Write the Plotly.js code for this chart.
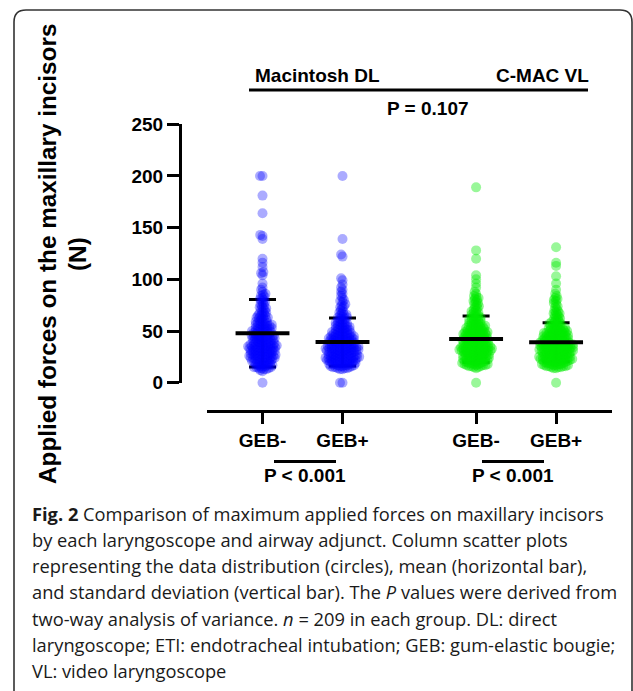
<!DOCTYPE html>
<html>
<head>
<meta charset="utf-8">
<script src="https://cdn.plot.ly/plotly-3.0.1.min.js"></script>
<style>html,body{margin:0;padding:0;background:#fff;}#chart{width:633px;height:691px;}</style>
</head>
<body>
<div id="chart"></div>
<script>
// ---------- data ----------
const groupLabels = ['GEB-', 'GEB+', 'GEB-', 'GEB+'];
const deviceLabels = ['Macintosh DL', 'C-MAC VL'];
const pInteraction = 'P = 0.107';
const pWithin = ['P < 0.001', 'P < 0.001'];

const macGEBminus = [200,200,181,164,143,142,139,120,116,112,107,106,104,96,0,
 12,13,13,14,14,15,15,15,16,16,16,17,17,17,18,18,18,19,19,19,11,14,
 20,20,21,21,21,22,22,22,23,23,23,23,24,24,24,25,25,25,25,26,26,26,26,27,27,27,27,28,28,28,28,29,29,29,20,24,
 30,30,30,31,31,31,31,32,32,32,32,33,33,33,33,34,34,34,34,35,35,35,35,36,36,36,36,37,37,37,37,38,38,38,38,39,39,39,30,35,
 40,40,40,41,41,41,42,42,42,43,43,43,44,44,44,45,45,45,46,46,46,47,47,47,48,48,48,49,49,49,41,44,46,43,
 50,50,51,51,52,52,53,53,54,54,55,55,56,56,57,57,58,58,59,59,50,53,55,56,52,
 60,61,61,62,63,63,64,65,65,66,67,67,68,69,62,64,
 70,71,72,73,74,75,76,77,78,79,72,
 80,81,82,83,84,85,86,88,90,92];

const macGEBplus = [200,139,124,122,101,99,95,92,90,0,0,
 13,13,14,14,14,15,15,15,16,16,16,16,17,17,17,17,18,18,18,18,19,19,19,19,
 20,20,20,20,21,21,21,21,22,22,22,22,22,23,23,23,23,23,24,24,24,24,24,25,25,25,25,25,26,26,26,26,26,27,27,27,27,28,28,28,28,29,29,29,
 30,30,30,30,30,31,31,31,31,31,32,32,32,32,32,33,33,33,33,33,34,34,34,34,34,35,35,35,35,35,36,36,36,36,37,37,37,37,38,38,38,38,39,39,39,39,
 40,40,40,40,41,41,41,41,42,42,42,42,43,43,43,43,44,44,44,44,45,45,45,45,46,46,46,47,47,47,48,48,48,49,49,49,
 50,50,51,51,52,52,53,53,54,54,55,55,56,56,57,57,58,58,59,59,51,54,
 60,61,62,62,63,64,65,66,66,67,68,69,63,
 70,72,73,74,75,76,78,79,
 80,82,84,86,88];

const cmacGEBminus = [189,128,120,104,100,96,92,88,0,
 14,15,15,16,16,17,17,17,18,18,18,18,19,19,19,19,16,17,
 20,20,20,21,21,21,21,22,22,22,22,23,23,23,23,24,24,24,24,25,25,25,25,26,26,26,26,27,27,27,27,28,28,28,28,29,29,29,
 30,30,30,30,30,31,31,31,31,31,32,32,32,32,32,33,33,33,33,33,34,34,34,34,34,35,35,35,35,35,36,36,36,36,37,37,37,37,38,38,38,38,39,39,39,39,
 40,40,40,40,41,41,41,41,42,42,42,42,43,43,43,43,44,44,44,44,45,45,45,45,46,46,46,46,47,47,47,47,48,48,48,48,49,49,49,49,
 50,50,50,51,51,51,52,52,52,53,53,53,54,54,54,55,55,55,56,56,57,57,58,58,59,59,
 60,60,61,61,62,62,63,63,64,65,65,66,67,68,68,69,
 70,71,72,73,74,75,76,77,78,79,
 80,81,82,83,84,86];

const cmacGEBplus = [131,116,113,103,96,90,86,0,
 14,14,15,15,15,16,16,16,16,17,17,17,17,18,18,18,18,19,19,19,
 20,20,20,20,21,21,21,21,22,22,22,22,22,23,23,23,23,23,24,24,24,24,24,25,25,25,25,25,26,26,26,26,27,27,27,27,28,28,28,28,29,29,29,29,
 30,30,30,30,30,31,31,31,31,31,32,32,32,32,32,33,33,33,33,33,34,34,34,34,34,35,35,35,35,35,36,36,36,36,36,37,37,37,37,37,38,38,38,38,38,39,39,39,39,39,
 40,40,40,40,41,41,41,41,42,42,42,42,43,43,43,43,44,44,44,44,45,45,45,45,46,46,46,46,47,47,47,47,48,48,48,48,49,49,49,49,
 50,50,50,51,51,51,52,52,52,53,53,53,54,54,55,55,56,56,57,57,58,58,59,59,
 60,61,62,62,63,64,65,66,67,67,68,69,
 70,71,73,74,76,77,79,
 80,81,82,84];

const groupMeans = [47.8, 39.3, 42.2, 39.2];
const groupSDs   = [32.7, 23.2, 22.4, 18.9];

const yTickVals = [0, 50, 100, 150, 200, 250];
const yTitle = 'Applied forces on the maxillary incisors';
const yUnit = '(N)';

const captionLines = [
 '<b>Fig. 2</b> Comparison of maximum applied forces on maxillary incisors',
 'by each laryngoscope and airway adjunct. Column scatter plots',
 'representing the data distribution (circles), mean (horizontal bar),',
 'and standard deviation (vertical bar). The <i>P</i> values were derived from',
 'two-way analysis of variance. <i>n</i> = 209 in each group. DL: direct',
 'laryngoscope; ETI: endotracheal intubation; GEB: gum-elastic bougie;',
 'VL: video laryngoscope'
];

// ---------- layout geometry ----------
const W = 633, H = 691;
const px = x => x / W;
const py = y => 1 - y / H;
const groupPos = [1, 2, 3.67, 4.67];
const xRange = [0.306, 5.369];
const plotL = 207, plotR = 612, axisY = 411, yAxisX = 180, yTop = 124.3, yBot = 382.7;
const pxPerX = (plotR - plotL) / (xRange[1] - xRange[0]);
const pxPerY = (yBot - yTop) / 250;

// beeswarm offsets (pixels) computed from values
function swarm(values, D) {
  const idx = values.map((v, i) => i).sort((a, b) => values[a] - values[b]);
  const placed = [];
  const off = new Array(values.length);
  for (const i of idx) {
    const y = values[i] * pxPerY;
    const ivs = [];
    for (const p of placed) {
      const dy = Math.abs(p.y - y);
      if (dy < D) { const dx = Math.sqrt(D * D - dy * dy); ivs.push([p.x - dx, p.x + dx]); }
    }
    const cands = [0];
    ivs.forEach(([a, b]) => cands.push(a, b));
    cands.sort((a, b) => Math.abs(a) - Math.abs(b));
    let chosen = 0;
    for (const c of cands) {
      if (ivs.every(([a, b]) => c <= a + 1e-6 || c >= b - 1e-6)) { chosen = c; break; }
    }
    placed.push({ x: chosen, y });
    off[i] = chosen;
  }
  return off;
}

const groups = [macGEBminus, macGEBplus, cmacGEBminus, cmacGEBplus];
const colors = ['rgba(0,0,255,0.33)', 'rgba(0,0,255,0.33)', 'rgba(0,235,0,0.4)', 'rgba(0,235,0,0.4)'];

const traces = [];
// SD bars (under the dots)
traces.push({
  type: 'scatter', mode: 'markers', x: groupPos, y: groupMeans,
  marker: { size: 1, color: 'rgba(0,0,0,0)' },
  error_y: { type: 'data', array: groupSDs, visible: true, thickness: 3, width: 13.5, color: '#000' },
  hoverinfo: 'skip', showlegend: false, cliponaxis: false
});
groups.forEach((vals, g) => {
  const off = swarm(vals, 2.5);
  traces.push({
    type: 'scatter', mode: 'markers',
    x: vals.map((v, i) => groupPos[g] + off[i] / pxPerX), y: vals,
    marker: { size: 10, color: colors[g], line: { width: 0 } },
    hoverinfo: 'skip', showlegend: false, cliponaxis: false
  });
});
// mean bars
traces.push({
  type: 'scatter', mode: 'markers', x: groupPos, y: groupMeans,
  marker: { symbol: 'line-ew', size: 38.5, color: '#000', line: { width: 4, color: '#000' } },
  hoverinfo: 'skip', showlegend: false, cliponaxis: false
});

const boldFont = (s) => ({ family: 'Arial, Liberation Sans, sans-serif', size: s, color: '#000', weight: 'bold' });
const capFont = { family: 'Open Sans, sans-serif', size: 18.3, color: '#1a1a1a' };

const annotations = [
  { text: deviceLabels[0], x: px(253), y: py(75), xanchor: 'left', yanchor: 'middle', font: boldFont(19) },
  { text: deviceLabels[1], x: px(591), y: py(75), xanchor: 'right', yanchor: 'middle', font: boldFont(19) },
  { text: pInteraction, x: px(428), y: py(109), xanchor: 'center', yanchor: 'middle', font: boldFont(19) },
  { text: pWithin[0], x: px(304.5), y: py(475), xanchor: 'center', yanchor: 'middle', font: boldFont(19) },
  { text: pWithin[1], x: px(513), y: py(475), xanchor: 'center', yanchor: 'middle', font: boldFont(19) },
  { text: yTitle, x: px(48), y: py(254), xanchor: 'center', yanchor: 'middle', textangle: -90, font: boldFont(24.3) },
  { text: yUnit, x: px(78), y: py(254), xanchor: 'center', yanchor: 'middle', textangle: -90, font: boldFont(24.3) }
];
const capTop = 513, capStep = 26.3;
captionLines.forEach((t, i) => annotations.push({
  text: t, x: px(30), y: py(capTop + i * capStep), xanchor: 'left', yanchor: 'middle', font: capFont
}));
annotations.forEach(a => { a.xref = 'paper'; a.yref = 'paper'; a.showarrow = false; });

const frame = 'M' + px(14) + ',' + py(720) + ' L' + px(14) + ',' + py(22) +
  ' Q' + px(14) + ',' + py(10) + ' ' + px(26) + ',' + py(10) +
  ' L' + px(620) + ',' + py(10) + ' Q' + px(632) + ',' + py(10) + ' ' + px(632) + ',' + py(22) +
  ' L' + px(632) + ',' + py(720);

const shapes = [
  { type: 'path', path: frame, xref: 'paper', yref: 'paper', line: { color: '#333', width: 1.6 } },
  { type: 'line', xref: 'paper', yref: 'paper', x0: px(249), x1: px(588), y0: py(90), y1: py(90), line: { color: '#000', width: 3 } },
  { type: 'line', xref: 'paper', yref: 'paper', x0: px(274), x1: px(336), y0: py(461.5), y1: py(461.5), line: { color: '#000', width: 3 } },
  { type: 'line', xref: 'paper', yref: 'paper', x0: px(482), x1: px(544), y0: py(461.5), y1: py(461.5), line: { color: '#000', width: 3 } }
];

const layout = {
  width: W, height: H, margin: { l: 0, r: 0, t: 0, b: 0, pad: 0 },
  paper_bgcolor: '#fff', plot_bgcolor: 'rgba(0,0,0,0)', showlegend: false, hovermode: false,
  xaxis: {
    domain: [px(plotL), px(plotR)], range: xRange, anchor: 'free', position: py(axisY),
    tickmode: 'array', tickvals: groupPos, ticktext: groupLabels,
    ticks: 'outside', ticklen: 11, tickwidth: 3, tickcolor: '#000',
    showline: true, linewidth: 3, linecolor: '#000', showgrid: false, zeroline: false,
    tickfont: boldFont(19), fixedrange: true
  },
  yaxis: {
    domain: [py(yBot), py(yTop)], range: [0, 250], anchor: 'free', position: px(yAxisX),
    tickmode: 'array', tickvals: yTickVals,
    ticks: 'outside', ticklen: 12, tickwidth: 3, tickcolor: '#000',
    showline: true, linewidth: 3, linecolor: '#000', showgrid: false, zeroline: false,
    tickfont: boldFont(19), fixedrange: true
  },
  annotations, shapes
};

Plotly.newPlot('chart', traces, layout, { displayModeBar: false, staticPlot: true });
</script>
</body>
</html>
